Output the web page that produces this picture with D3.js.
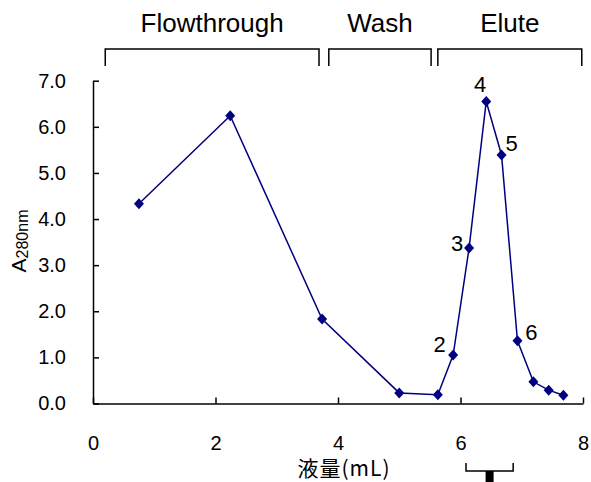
<!DOCTYPE html>
<html>
<head>
<meta charset="utf-8">
<title>A280 elution</title>
<style>
  body { margin: 0; background: #fff; }
  text { font-family: 'Liberation Sans', Arial, sans-serif; fill: #000; }
  .jp { font-family: 'Noto Sans CJK JP', sans-serif; }
</style>
<script src="https://d3js.org/d3.v7.min.js"></script>
</head>
<body>
<div id="chart"></div>
<script>
// ---- data ----
const volumes = [0.75, 2.24, 3.74, 5.0, 5.63, 5.88, 6.14, 6.42, 6.67, 6.93, 7.19, 7.44, 7.68];
const a280    = [4.33, 6.24, 1.83, 0.23, 0.19, 1.05, 3.37, 6.55, 5.39, 1.36, 0.47, 0.29, 0.18];
// fraction numbers written next to some points (index into the arrays above)
const fracIndex = [5, 6, 7, 8, 9];
const fracLabel = ["2", "3", "4", "5", "6"];
const phaseNames = ["Flowthrough", "Wash", "Elute"];
const phaseStart = [0.2, 3.85, 5.63];
const phaseEnd   = [3.69, 5.52, 7.98];
const poolRange  = [6.09, 6.86];
const xTicks = [0, 2, 4, 6, 8];
const yTicks = [0, 1, 2, 3, 4, 5, 6, 7];

const width = 591, height = 482;
const navy = "#000080";

const svg = d3.select("#chart").append("svg")
    .attr("width", width)
    .attr("height", height);

const x = d3.scaleLinear().domain([0, 8]).range([93, 583]);
const y = d3.scaleLinear().domain([0, 7]).range([403.5, 80.7]);

// axes, ticks pointing inward
svg.append("g")
    .attr("transform", "translate(0," + y(0) + ")")
    .call(d3.axisBottom(x).tickValues(xTicks).tickFormat(d3.format("d"))
        .tickSize(-6).tickSizeOuter(0).tickPadding(32))
    .call(g => g.selectAll("text").attr("font-size", 20).attr("font-family", null))
    .call(g => g.selectAll("line, path").attr("stroke", "#000").attr("stroke-width", 1.5));

svg.append("g")
    .attr("transform", "translate(" + x(0) + ",0)")
    .call(d3.axisLeft(y).tickValues(yTicks).tickFormat(d3.format(".1f"))
        .tickSize(-6).tickSizeOuter(0).tickPadding(27))
    .call(g => g.selectAll("text").attr("font-size", 20).attr("font-family", null))
    .call(g => g.selectAll("line, path").attr("stroke", "#000").attr("stroke-width", 1.5));

// axis titles
svg.append("text")
    .attr("class", "jp")
    .attr("x", 344).attr("y", 476)
    .attr("text-anchor", "middle")
    .attr("font-size", 21)
    .attr("letter-spacing", 1)
    .text("液量(mL)");

const yt = svg.append("text")
    .attr("transform", "translate(26,241) rotate(-90)")
    .attr("text-anchor", "middle")
    .attr("font-size", 21);
yt.append("tspan").text("A");
yt.append("tspan").attr("font-size", 16).attr("dy", 2).text("280nm");

// phase brackets on top
const phases = phaseNames.map((n, i) => ({name: n, start: phaseStart[i], end: phaseEnd[i]}));
const ph = svg.selectAll(".phase").data(phases).enter().append("g");
ph.append("path")
    .attr("d", d => "M" + x(d.start) + ",66V49H" + x(d.end) + "V66")
    .attr("fill", "none").attr("stroke", "#000").attr("stroke-width", 1.5);
ph.append("text")
    .attr("x", d => (x(d.start) + x(d.end)) / 2)
    .attr("y", 32)
    .attr("text-anchor", "middle")
    .attr("font-size", 26)
    .text(d => d.name);

// pooled fractions marker under the axis
const px0 = x(poolRange[0]), px1 = x(poolRange[1]), pm = (px0 + px1) / 2;
svg.append("path")
    .attr("d", "M" + px0 + ",463V471H" + px1 + "V463")
    .attr("fill", "none").attr("stroke", "#000").attr("stroke-width", 1.5);
svg.append("rect")
    .attr("x", pm - 4).attr("y", 471).attr("width", 8).attr("height", 12)
    .attr("fill", "#000");

// series
const pts = volumes.map((v, i) => ({x: v, y: a280[i]}));
svg.append("path")
    .datum(pts)
    .attr("d", d3.line().x(d => x(d.x)).y(d => y(d.y)))
    .attr("fill", "none").attr("stroke", navy).attr("stroke-width", 1.5);

svg.selectAll(".pt").data(pts).enter().append("path")
    .attr("transform", d => "translate(" + x(d.x) + "," + y(d.y) + ")")
    .attr("d", "M0,-5.5L5,0L0,5.5L-5,0Z")
    .attr("fill", navy);

// fraction labels
const labOffset = [[-13.5, -3], [-12, 3], [-6, -9], [10, -4], [14, -1]];
svg.selectAll(".frac").data(fracIndex).enter().append("text")
    .attr("x", (d, i) => x(volumes[d]) + labOffset[i][0])
    .attr("y", (d, i) => y(a280[d]) + labOffset[i][1])
    .attr("text-anchor", "middle")
    .attr("font-size", 22)
    .text((d, i) => fracLabel[i]);
</script>
</body>
</html>
